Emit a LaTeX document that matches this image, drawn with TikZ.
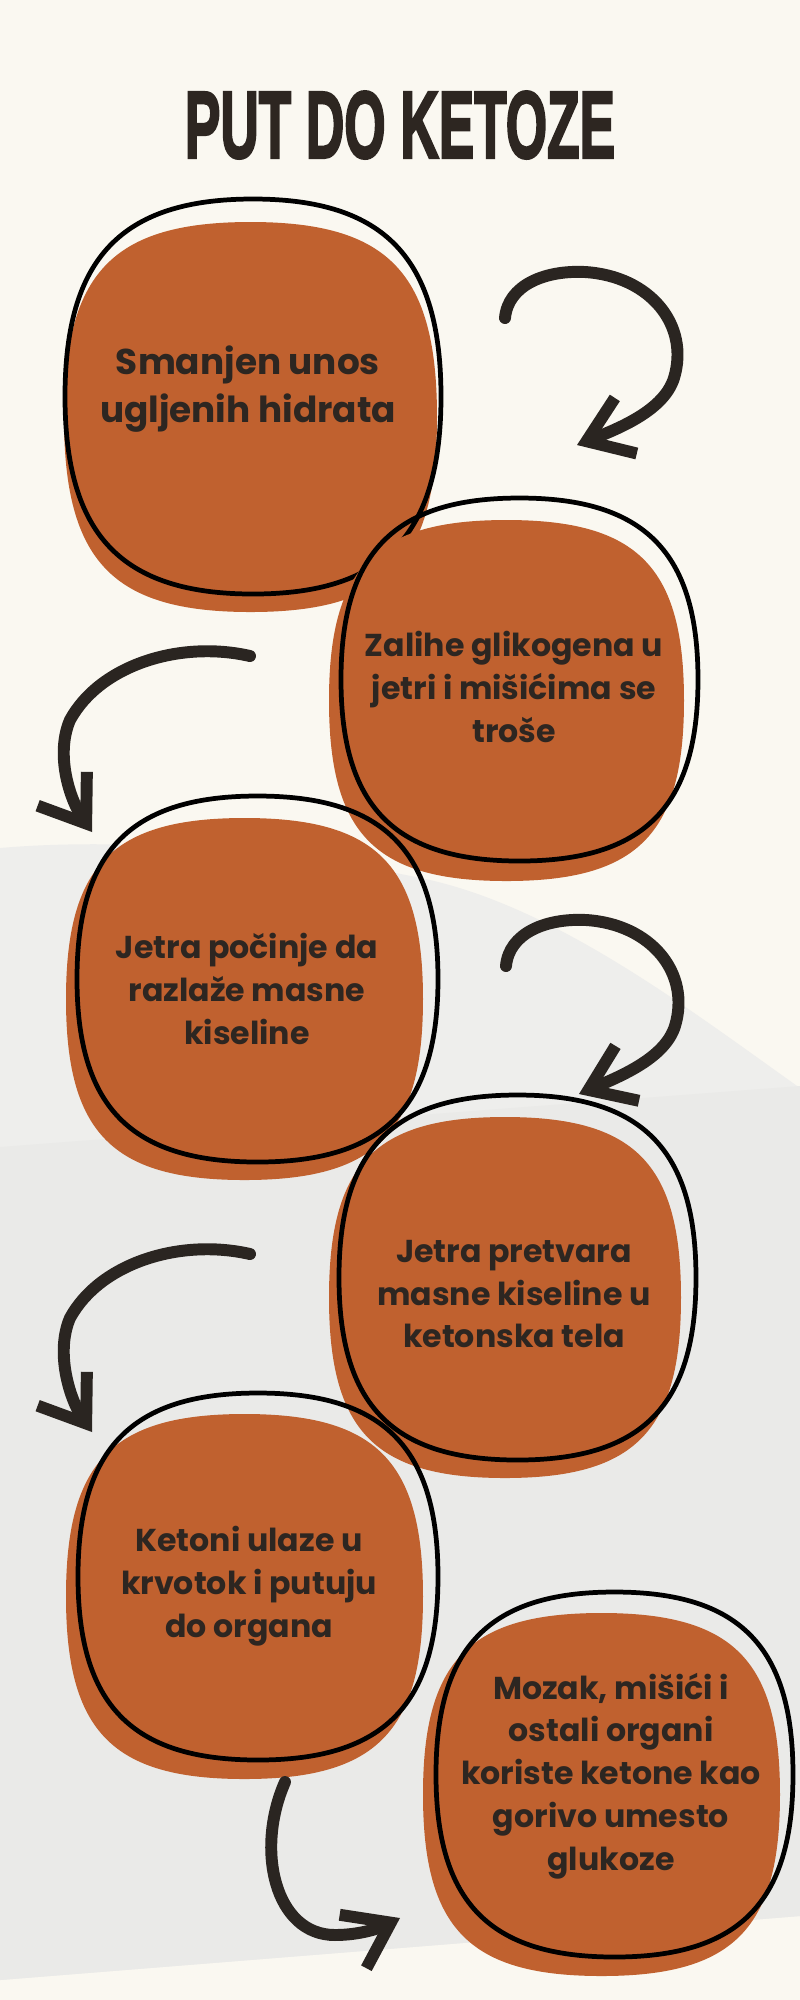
\documentclass[tikz,border=0pt]{standalone}
\usepackage{fontspec}
\usepackage{graphicx}
\setmainfont{Poppins}
\newfontfamily\titlefont{Liberation Sans}[FakeBold=3]
\usetikzlibrary{arrows.meta}

\definecolor{cream}{HTML}{FAF8F1}
\definecolor{mist}{HTML}{EEEEEC}
\definecolor{mistdark}{HTML}{EAEAE8}
\definecolor{rust}{HTML}{C0612F}
\definecolor{ink}{HTML}{2D2621}
\definecolor{brush}{HTML}{2A2521}

\newcommand{\blobshape}[6]{\path[#1] ({#2},{#3-#5}) .. controls ({#2+#6*#4},{#3-#5}) and ({#2+#4},{#3-#6*#5}) .. ({#2+#4},{#3})
  .. controls ({#2+#4},{#3+#6*#5}) and ({#2+#6*#4},{#3+#5}) .. ({#2},{#3+#5})
  .. controls ({#2-#6*#4},{#3+#5}) and ({#2-#4},{#3+#6*#5}) .. ({#2-#4},{#3})
  .. controls ({#2-#4},{#3-#6*#5}) and ({#2-#6*#4},{#3-#5}) .. ({#2},{#3-#5}) -- cycle;}

\begin{document}
\begin{tikzpicture}[
        x=0.1mm, y=-0.1mm,
        title/.style={text=ink, font=\titlefont\bfseries\fontsize{27}{27}\selectfont, inner sep=0pt},
        stage/.style={text=ink, font=\bfseries\fontsize{9}{12.2}\selectfont, align=center, inner sep=0pt},
        bigstage/.style={stage, font=\bfseries\fontsize{10.2}{13.7}\selectfont},
        rustblob/.style={fill=rust},
        ring/.style={draw=black, line width=1.35pt},
        arr/.style={draw=brush, line width=3.4pt, line cap=round, -{Straight Barb[length=12pt,width=17pt]}}
    ]
        \useasboundingbox (0,0) rectangle (800,2000);
        \fill[cream] (0,0) rectangle (800,2000);
        \fill[mist] (0,848) .. controls (150,835) and (330,858) .. (430,880) .. controls (560,910) and (690,1010) .. (800,1088) -- (800,1916) -- (0,1980) -- cycle;
        \fill[mistdark] (0,1147) -- (800,1086) -- (800,1916) -- (0,1980) -- cycle;

        \blobshape{rustblob}{250.5}{417}{186.5}{195}{0.74}
        \blobshape{ring}{253}{396.5}{188}{197.5}{0.7}
        \blobshape{rustblob}{506.5}{700.5}{177.5}{180.5}{0.74}
        \blobshape{ring}{519.5}{679.5}{178.5}{181.5}{0.7}
        \blobshape{rustblob}{244.5}{999}{178.5}{181}{0.74}
        \blobshape{ring}{257.5}{979}{180.5}{183}{0.7}
        \blobshape{rustblob}{505}{1297.5}{176}{180.5}{0.74}
        \blobshape{ring}{517.5}{1277.5}{178.5}{182.5}{0.7}
        \blobshape{rustblob}{244.5}{1596.5}{178.5}{182.5}{0.74}
        \blobshape{ring}{258}{1576.5}{180}{183.5}{0.7}
        \blobshape{rustblob}{601.5}{1794.5}{178.5}{181.5}{0.74}
        \blobshape{ring}{614.5}{1774.5}{178.5}{182.5}{0.7}

        \node [title] (title) at (400,125) {\scalebox{0.56}[1]{PUT DO KETOZE}};
        \node [bigstage] (s1) at (248,389) {Smanjen unos\\ugljenih hidrata};
        \node [stage] (s2) at (514,687) {Zalihe glikogena u\\jetri i mišićima se\\troše};
        \node [stage] (s3) at (247,989) {Jetra počinje da\\razlaže masne\\kiseline};
        \node [stage] (s4) at (514,1294) {Jetra pretvara\\masne kiseline u\\ketonska tela};
        \node [stage] (s5) at (249,1586) {Ketoni ulaze u\\krvotok i putuju\\do organa};
        \node [stage] (s6) at (611,1776) {Mozak, mišići i\\ostali organi\\koriste ketone kao\\gorivo umesto\\glukoze};

        \coordinate (a1t) at (505,318);
        \coordinate (a1h) at (577,445);
        \coordinate (a2t) at (250,656);
        \coordinate (a2h) at (92,832);
        \coordinate (a3t) at (506,966);
        \coordinate (a3h) at (579,1094);
        \coordinate (a4t) at (250,1254);
        \coordinate (a4h) at (92,1432);
        \coordinate (a5t) at (285,1782);
        \coordinate (a5h) at (400,1918);

        \path [arr] (a1t) .. controls (508,285) and (545,270) .. (585,272) .. controls (650,276) and (690,325) .. (674,378) .. controls (664,410) and (620,428) .. (a1h);
        \path [arr] (a2t) .. controls (180,640) and (100,665) .. (70,720) .. controls (55,755) and (70,800) .. (a2h);
        \path [arr] (a3t) .. controls (509,933) and (546,918) .. (586,920) .. controls (651,924) and (691,973) .. (675,1026) .. controls (665,1058) and (621,1076) .. (a3h);
        \path [arr] (a4t) .. controls (180,1238) and (100,1263) .. (70,1318) .. controls (55,1353) and (70,1400) .. (a4h);
        \path [arr] (a5t) .. controls (255,1850) and (275,1935) .. (335,1935) .. controls (360,1935) and (380,1928) .. (a5h);
    \end{tikzpicture}
\end{document}
